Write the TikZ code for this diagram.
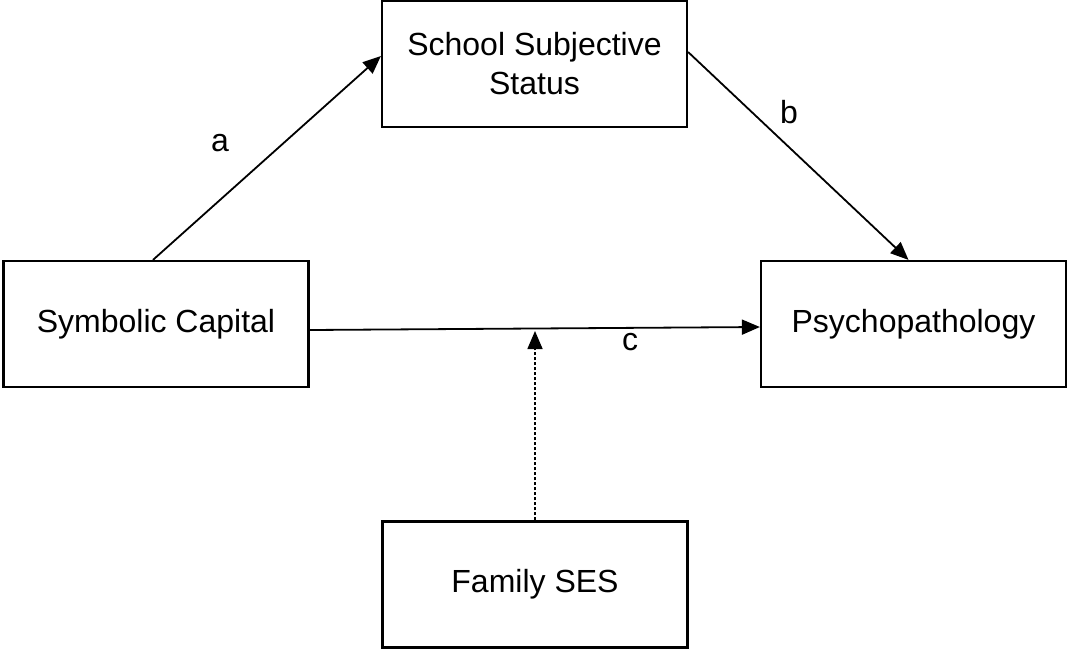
\documentclass[tikz,border=0pt]{standalone}
\usepackage{fontspec}
\setmainfont{Liberation Sans}
\usetikzlibrary{arrows.meta}
\begin{document}
\begin{tikzpicture}[x=1pt,y=-1pt,
  box/.style={draw, line width=2.2pt, minimum width=305pt, minimum height=126pt, inner sep=0pt, align=center, font=\fontsize{32}{39}\selectfont},
  lbl/.style={font=\fontsize{32}{39}\selectfont, inner sep=0pt},
  conn/.style={line width=1.8pt, -{Triangle[length=18pt,width=15pt]}},
  dconn/.style={line width=1.6pt, dash pattern=on 3pt off 2pt, -{Triangle[length=18pt,width=15pt]}}]
\useasboundingbox (0,0) rectangle (1069,649);
\node[box] (school) at (534.5,64) {School Subjective\\Status};
\node[box] (sym) at (156,324) {Symbolic Capital};
\node[box] (psy) at (913.5,324) {Psychopathology};
\node[box] (fam) at (535,584.5) {Family SES};
\coordinate (m) at (535,331);
\draw[conn] ([xshift=-3pt]sym.north) -- ([yshift=8pt]school.west);
\draw[conn] ([yshift=12pt]school.east) -- ([xshift=-5pt]psy.north);
\draw[conn] ([yshift=-6pt]sym.east) -- ([yshift=-3pt]psy.west);
\draw[dconn] (fam.north) -- (m);
\node[lbl] (la) at (220,143) {a};
\node[lbl] (lb) at (789,112) {b};
\node[lbl] (lc) at (630,342) {c};
\end{tikzpicture}
\end{document}
